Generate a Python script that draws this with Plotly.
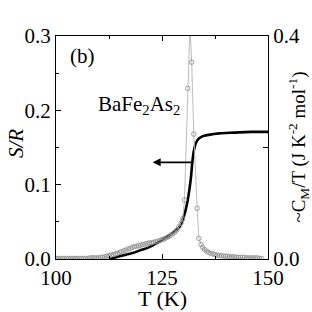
import plotly.graph_objects as go

# C_M/T data (right axis), open circles with grey line
cm_T = [100, 100.5, 101, 101.5, 102, 102.5, 103, 103.5, 104, 104.5, 105, 105.5, 106, 106.5,
        107, 107.5, 108, 108.5, 109, 109.5, 110, 110.5, 111, 111.5, 112, 112.5, 113, 113.5,
        114, 114.5, 115, 115.5, 116, 116.5, 117, 117.5, 118, 118.5, 119, 119.5, 120, 120.5,
        121, 121.5, 122, 122.5, 123, 123.5, 124, 124.5, 125, 125.5, 126, 126.5, 127, 127.5,
        128, 128.5, 129, 129.5, 129.9, 130.3, 131.06, 131.6, 132.0, 132.5, 133.3, 133.7,
        134.2, 134.6, 135, 135.5, 136, 136.5, 137, 137.5, 138, 138.5, 139, 139.5, 140,
        140.5, 141, 141.5, 142, 142.5, 143, 143.5, 144, 144.5, 145, 145.5, 146, 146.5,
        147, 147.5, 148, 148.5]
cm_V = [0.001, 0.001, 0.001, 0.001, 0.001, 0.001, 0.001, 0.001, 0.001, 0.001, 0.001, 0.001,
        0.001, 0.001, 0.001, 0.001, 0.002, 0.002, 0.002, 0.002, 0.002, 0.003, 0.003, 0.004,
        0.005, 0.006, 0.007, 0.008, 0.009, 0.010, 0.012, 0.013, 0.015, 0.016, 0.018, 0.019,
        0.021, 0.022, 0.023, 0.024, 0.025, 0.026, 0.027, 0.028, 0.029, 0.029, 0.030, 0.031,
        0.032, 0.033, 0.035, 0.036, 0.038, 0.040, 0.042, 0.045, 0.048, 0.052, 0.058, 0.065,
        0.072, 0.106, 0.306, 0.42, 0.353, 0.224, 0.091, 0.037, 0.026, 0.021, 0.017, 0.014,
        0.012, 0.010, 0.009, 0.008, 0.007, 0.006, 0.006, 0.005, 0.005, 0.005, 0.004, 0.004,
        0.004, 0.003, 0.003, 0.003, 0.003, 0.003, 0.002, 0.002, 0.002, 0.002, 0.002, 0.002,
        0.001, 0.001, 0.001, 0.001]

# S/R curve (left axis), thick black line
s_T = [112.5, 114, 116, 118, 120, 122, 124, 126, 127.5, 129.1, 129.9, 130.5, 131.06, 131.5,
       131.85, 132.2, 132.6, 133.0, 133.5, 134.5, 136, 138.5, 142, 146, 150]
s_V = [0.0, 0.002, 0.005, 0.008, 0.012, 0.016, 0.022, 0.029, 0.035, 0.043, 0.053, 0.064,
       0.079, 0.095, 0.111, 0.133, 0.148, 0.156, 0.161, 0.165, 0.167, 0.169, 0.170, 0.171, 0.171]

x_ticks = [100, 125, 150]
left_ticks = [0.0, 0.1, 0.2, 0.3]
right_ticks = [0.0, 0.4]

FONT = "Liberation Serif"

fig = go.Figure()
fig.add_trace(go.Scatter(
    x=cm_T, y=cm_V, yaxis="y2", mode="lines+markers",
    line=dict(color="#b4b4b4", width=0.9),
    marker=dict(symbol="circle-open", size=4.5, color="#8c8c8c", line=dict(width=0.8)),
    showlegend=False, hoverinfo="skip"))
fig.add_trace(go.Scatter(
    x=s_T, y=s_V, mode="lines", line=dict(color="black", width=2.6, shape="spline"),
    showlegend=False, hoverinfo="skip"))

fig.add_annotation(x=122.8, y=0.13, ax=132.2, ay=0.13, xref="x", yref="y", axref="x", ayref="y",
                   text="", showarrow=True, arrowhead=2, arrowsize=1, arrowwidth=1.6,
                   arrowcolor="black")

def label(x, y, text, size, angle=0):
    fig.add_annotation(x=x, y=y, xref="paper", yref="paper", text=text, showarrow=False,
                       xanchor="center", yanchor="middle", textangle=angle,
                       font=dict(family=FONT, size=size, color="black"))

label(0.125, 0.91, "(b)", 21)
label(0.39, 0.69, "BaFe<sub>2</sub>As<sub>2</sub>", 21)
# axis titles
label(0.5, -0.176, "T (K)", 22)
label(-0.186, 0.518, "<i>S/R</i>", 21, -90)
label(1.142, 0.5, "~C<sub>M</sub>/T (J K<sup>-2</sup> mol<sup>-1</sup>)", 19, -90)

fig.update_layout(
    width=312, height=312,
    margin=dict(l=56, r=44, t=36, b=53),
    paper_bgcolor="white", plot_bgcolor="white",
    font=dict(family=FONT, size=21, color="black"),
    xaxis=dict(range=[100, 150], tickvals=x_ticks, ticktext=[str(v) for v in x_ticks],
               ticks="inside", ticklen=5, tickwidth=1, tickcolor="black",
               minor=dict(tickvals=[112.5, 137.5], ticks="inside", ticklen=3, tickcolor="black"),
               showline=True, linecolor="black", linewidth=1, mirror="ticks",
               showgrid=False, zeroline=False, ticklabelstandoff=0),
    yaxis=dict(range=[0, 0.3], tickvals=left_ticks, ticktext=["0.0", "0.1", "0.2", "0.3"],
               ticks="inside", ticklen=5, tickwidth=1, tickcolor="black",
               minor=dict(tickvals=[0.05, 0.15, 0.25], ticks="inside", ticklen=3, tickcolor="black"),
               showline=True, linecolor="black", linewidth=1,
               showgrid=False, zeroline=False),
    yaxis2=dict(range=[0, 0.4], overlaying="y", side="right",
                tickvals=right_ticks, ticktext=["0.0", "0.4"],
                ticks="inside", ticklen=5, tickwidth=1, tickcolor="black",
                minor=dict(tickvals=[0.2], ticks="inside", ticklen=5, tickcolor="black"),
                showline=True, linecolor="black", linewidth=1,
                showgrid=False, zeroline=False),
)

fig.write_html("out.html", config={"displayModeBar": False},
               post_script="document.body.style.margin='0';document.body.style.overflow='hidden';")
